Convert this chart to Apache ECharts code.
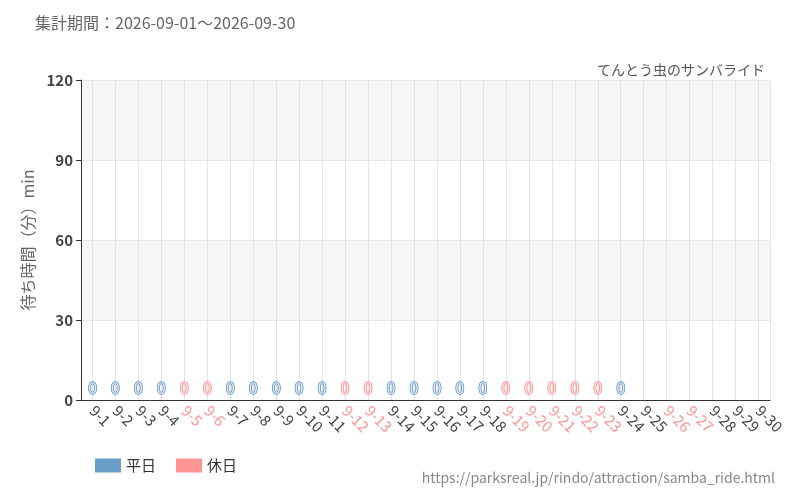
<!DOCTYPE html><html><head><meta charset="utf-8"><script src="https://cdn.jsdelivr.net/npm/echarts@6/dist/echarts.min.js"></script></head><body style="margin:0"><div id="c" style="width:800px;height:500px"></div><script>
const days=[];for(let i=1;i<=30;i++)days.push('9-'+i);
const holidays=['9-5','9-6','9-12','9-13','9-19','9-20','9-21','9-22','9-23','9-26','9-27'];
const weekday=[0,0,0,0,null,null,0,0,0,0,0,null,null,0,0,0,0,0,null,null,null,null,null,0,null,null,null,null,null,null];
const holiday=[null,null,null,null,0,0,null,null,null,null,null,0,0,null,null,null,null,null,0,0,0,0,0,null,null,null,null,null,null,null];
const BLUE='#6a9ec8',PINK='#ff9494';
const F='"Noto Sans CJK JP"';
const lab=c=>({show:true,position:'insideBottom',distance:2,formatter:'{c}',color:c==BLUE?'#e3edf6':'#ffe6e6',textBorderColor:c==BLUE?'#4f86b8':'#ff8080',textBorderWidth:1.5,fontSize:16,fontFamily:'"Liberation Sans Narrow","DejaVu Sans Condensed",sans-serif'});
const half=[];for(let i=0;i<60;i++)half.push(i);
echarts.init(document.getElementById('c')).setOption({
animation:false,
title:[{text:'集計期間：2026-09-01～2026-09-30',left:30,top:10,textStyle:{fontSize:16,fontWeight:'normal',color:'#666',fontFamily:F}},
{text:'てんとう虫のサンバライド',right:30,top:58,textStyle:{fontSize:14,fontWeight:'normal',color:'#555',fontFamily:F}},
{text:'https://parksreal.jp/rindo/attraction/samba_ride.html',right:20,bottom:10,textStyle:{fontSize:14,fontWeight:'normal',color:'#888',fontFamily:F}}],
legend:{left:90,bottom:22,icon:'rect',itemWidth:26,itemHeight:14,itemGap:20,textStyle:{fontSize:15,color:'#333',fontFamily:F},data:['平日','休日']},
grid:{left:81,right:30,top:80,bottom:100},
xAxis:[{type:'category',data:days,axisTick:{alignWithLabel:true,length:4,lineStyle:{color:'#333'}},axisLine:{lineStyle:{color:'#333'}},
axisLabel:{interval:0,rotate:-45,fontSize:15,fontFamily:F,margin:8,color:v=>holidays.includes(v)?PINK:'#444'}},
{type:'category',data:half,show:true,position:'bottom',axisLine:{show:false},axisTick:{show:false},axisLabel:{show:false},splitLine:{show:true,interval:i=>i%2==1,lineStyle:{color:'#e4e4e4'}}}],
yAxis:{type:'value',min:0,max:120,interval:30,name:'待ち時間（分）min',nameLocation:'middle',nameGap:45,nameTextStyle:{fontSize:16,color:'#666',fontFamily:F},
axisLine:{show:true,lineStyle:{color:'#333'}},axisTick:{show:true,length:5,lineStyle:{color:'#333'}},axisLabel:{fontSize:15,fontWeight:'bold',color:'#444',fontFamily:F},
splitLine:{lineStyle:{color:'#e8e8e8'}},splitArea:{show:true,areaStyle:{color:['#fff','#f6f6f6']}}},
series:[{name:'平日',type:'bar',data:weekday,barGap:'-100%',barWidth:'90%',itemStyle:{color:BLUE},label:lab(BLUE)},
{name:'休日',type:'bar',data:holiday,barWidth:'90%',itemStyle:{color:PINK},label:lab(PINK)}]
});
</script></body></html>
